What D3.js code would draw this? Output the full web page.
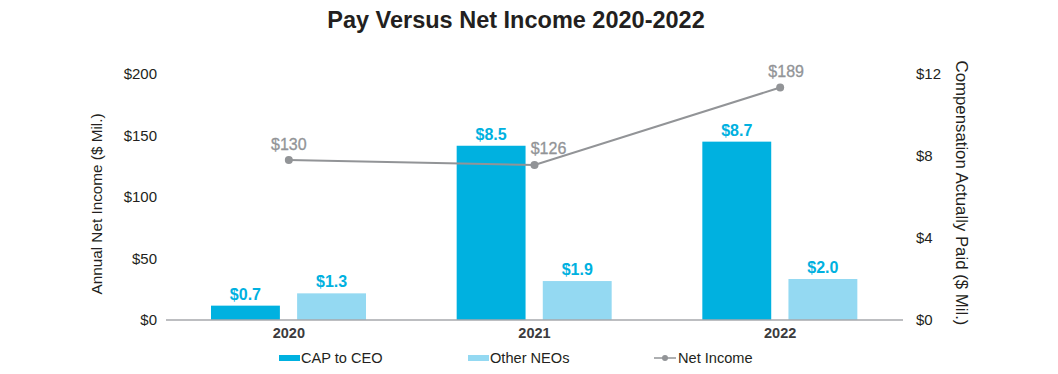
<!DOCTYPE html>
<html>
<head>
<meta charset="utf-8">
<script src="https://cdn.jsdelivr.net/npm/d3@7"></script>
<style>
  body { margin: 0; background: #fff; }
  text { font-family: "Liberation Sans", Arial, sans-serif; }
</style>
</head>
<body>
<script>
const years = ['2020', '2021', '2022']
const capCeo = [0.7, 8.5, 8.7]
const otherNeos = [1.3, 1.9, 2.0]
const netIncome = [130, 126, 189]
const leftTicks = [0, 50, 100, 150, 200]
const rightTicks = [0, 4, 8, 12]

const width = 1058, height = 374
const margins = { top: 74, right: 155, bottom: 54, left: 166 }
const innerW = width - margins.left - margins.right
const innerH = height - margins.top - margins.bottom

const cCeo = '#00b1e0'
const cNeo = '#94d9f2'
const cLine = '#929497'
const cText = '#231f20'
const font = '"Liberation Sans", Arial, sans-serif'

let svg = d3.select('body').append('svg')
  .attr('width', width)
  .attr('height', height)

svg.append('text')
  .attr('x', 516)
  .attr('y', 28)
  .attr('text-anchor', 'middle')
  .attr('font-size', 23.5)
  .attr('font-weight', 'bold')
  .attr('fill', cText)
  .text('Pay Versus Net Income 2020-2022')

let g = svg.append('g')
  .attr('transform', 'translate(' + [margins.left, margins.top] + ')')

let x = d3.scaleBand()
  .domain(years)
  .range([0, innerW])

let xs = d3.scaleBand()
  .domain(['ceo', 'neo'])
  .range([45, 45 + 155])
  .paddingInner(0.2)

let yL = d3.scaleLinear().domain([0, 200]).range([innerH, 0])
let yR = d3.scaleLinear().domain([0, 12]).range([innerH, 0])

// left axis
let axL = g.append('g')
  .call(d3.axisLeft(yL).tickValues(leftTicks).tickSize(0).tickPadding(9).tickFormat((d) => '$' + d))
axL.select('.domain').remove()
axL.selectAll('text').attr('font-size', 15).attr('fill', cText).attr('font-family', font)

// right axis
let axR = g.append('g')
  .attr('transform', 'translate(' + [innerW, 0] + ')')
  .call(d3.axisRight(yR).tickValues(rightTicks).tickSize(0).tickPadding(13).tickFormat((d) => '$' + d))
axR.select('.domain').remove()
axR.selectAll('text').attr('font-size', 15).attr('fill', cText).attr('font-family', font)

// axis titles
svg.append('text')
  .attr('transform', 'translate(102,204) rotate(-90)')
  .attr('text-anchor', 'middle')
  .attr('font-size', 15.3)
  .attr('fill', cText)
  .text('Annual Net Income ($ Mil.)')

svg.append('text')
  .attr('transform', 'translate(956,193) rotate(90)')
  .attr('text-anchor', 'middle')
  .attr('font-size', 16.8)
  .attr('fill', cText)
  .text('Compensation Actually Paid ($ Mil.)')

// bars
let groups = g.selectAll('.yr')
    .data(years)
  .enter().append('g')
    .attr('class', 'yr')
    .attr('transform', (d) => 'translate(' + x(d) + ',0)')

groups.append('rect')
  .attr('x', xs('ceo'))
  .attr('width', xs.bandwidth())
  .attr('y', (d, i) => yR(capCeo[i]))
  .attr('height', (d, i) => innerH - yR(capCeo[i]))
  .attr('fill', cCeo)

groups.append('rect')
  .attr('x', xs('neo'))
  .attr('width', xs.bandwidth())
  .attr('y', (d, i) => yR(otherNeos[i]))
  .attr('height', (d, i) => innerH - yR(otherNeos[i]))
  .attr('fill', cNeo)

groups.append('text')
  .attr('x', xs('ceo') + xs.bandwidth() / 2)
  .attr('y', (d, i) => yR(capCeo[i]) - 6)
  .attr('text-anchor', 'middle')
  .attr('font-size', 16)
  .attr('font-weight', 'bold')
  .attr('fill', cCeo)
  .text((d, i) => '$' + capCeo[i].toFixed(1))

groups.append('text')
  .attr('x', xs('neo') + xs.bandwidth() / 2)
  .attr('y', (d, i) => yR(otherNeos[i]) - 6)
  .attr('text-anchor', 'middle')
  .attr('font-size', 16)
  .attr('font-weight', 'bold')
  .attr('fill', cCeo)
  .text((d, i) => '$' + otherNeos[i].toFixed(1))

// baseline
g.append('line')
  .attr('x1', 0).attr('x2', innerW)
  .attr('y1', innerH).attr('y2', innerH)
  .attr('stroke', '#a7a9ac')
  .attr('stroke-width', 1.5)

// x labels
g.selectAll('.xl')
    .data(years)
  .enter().append('text')
    .attr('x', (d) => x(d) + x.bandwidth() / 2)
    .attr('y', innerH + 17.5)
    .attr('text-anchor', 'middle')
    .attr('font-size', 14.5)
    .attr('font-weight', 'bold')
    .attr('fill', '#3b3b3d')
    .text((d) => d)

// net income line
let line = d3.line()
  .x((d, i) => x(years[i]) + x.bandwidth() / 2)
  .y((d) => yL(d))

g.append('path')
  .attr('d', line(netIncome))
  .attr('fill', 'none')
  .attr('stroke', cLine)
  .attr('stroke-width', 2)

g.selectAll('.pt')
    .data(netIncome)
  .enter().append('circle')
    .attr('cx', (d, i) => x(years[i]) + x.bandwidth() / 2)
    .attr('cy', (d) => yL(d))
    .attr('r', 4)
    .attr('fill', cLine)

const labelDx = [0, 14, 6]
const labelDy = [-10.5, -11, -11]
g.selectAll('.pl')
    .data(netIncome)
  .enter().append('text')
    .attr('x', (d, i) => x(years[i]) + x.bandwidth() / 2 + labelDx[i])
    .attr('y', (d, i) => yL(d) + labelDy[i])
    .attr('text-anchor', 'middle')
    .attr('font-size', 16)
    .attr('fill', cLine)
    .attr('stroke', cLine)
    .attr('stroke-width', 0.3)
    .text((d) => '$' + d)

// legend
let leg = svg.append('g').attr('transform', 'translate(0,358)')

leg.append('rect').attr('x', 279).attr('y', -3).attr('width', 21).attr('height', 6).attr('fill', cCeo)
leg.append('text').attr('x', 301).attr('y', 5).attr('font-size', 14.6).attr('fill', cText).text('CAP to CEO')

leg.append('rect').attr('x', 468).attr('y', -3).attr('width', 21).attr('height', 6).attr('fill', cNeo)
leg.append('text').attr('x', 490).attr('y', 5).attr('font-size', 14.6).attr('fill', cText).text('Other NEOs')

leg.append('line').attr('x1', 654).attr('x2', 676).attr('y1', 0).attr('y2', 0).attr('stroke', cLine).attr('stroke-width', 1.5)
leg.append('circle').attr('cx', 665).attr('cy', 0).attr('r', 3).attr('fill', cLine)
leg.append('text').attr('x', 678).attr('y', 5).attr('font-size', 14.6).attr('fill', cText).text('Net Income')
</script>
</body>
</html>
